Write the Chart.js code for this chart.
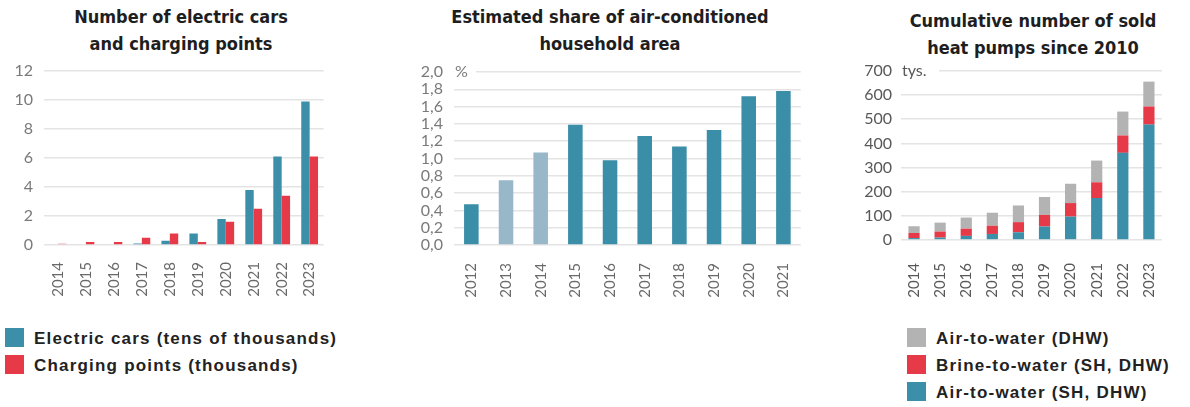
<!DOCTYPE html>
<html>
<head>
<meta charset="utf-8">
<script src="https://cdn.jsdelivr.net/npm/chart.js@4/dist/chart.umd.min.js"></script>
<style>
  html, body { margin: 0; padding: 0; background: #fff; }
  body { width: 1190px; height: 407px; position: relative; overflow: hidden; }
  canvas { position: absolute; top: 0; }
  .title {
    position: absolute; top: 3px; text-align: center; white-space: nowrap;
    font-family: "DejaVu Sans", sans-serif; font-stretch: condensed;
    font-weight: bold; font-size: 18px; line-height: 27px; color: #1e1e1e;
  }
  .legend { position: absolute; font-family: "Liberation Sans", sans-serif; font-weight: bold;
    font-size: 17px; letter-spacing: 1.2px; color: #222; }
  .legend .row { position: relative; height: 27px; line-height: 20px; white-space: nowrap; }
  .legend .sw { display: inline-block; width: 19px; height: 19px; vertical-align: -3px; margin-right: 10px; }
</style>
</head>
<body>
<div class="title" style="left:21px;width:320px;">Number of electric cars<br>and charging points</div>
<div class="title" style="left:440px;width:340px;">Estimated share of air-conditioned<br>household area</div>
<div class="title" style="left:873px;width:320px;top:7px;">Cumulative number of sold<br>heat pumps since 2010</div>

<canvas id="cars" width="345" height="320" style="left:0px"></canvas>
<canvas id="ac" width="420" height="320" style="left:400px"></canvas>
<canvas id="hp" width="340" height="320" style="left:850px"></canvas>

<div class="legend" id="legCars" style="left:5px;top:328px;"></div>
<div class="legend" id="legHp" style="left:907px;top:328px;"></div>

<script>
// Electric cars and charging points
const carYears = ['2014','2015','2016','2017','2018','2019','2020','2021','2022','2023'];
const electricCars = [0, 0, 0, 0.1, 0.3, 0.8, 1.8, 3.8, 6.1, 9.9];          // tens of thousands
const chargingPoints = [0.1, 0.2, 0.2, 0.5, 0.8, 0.2, 1.6, 2.5, 3.4, 6.1];  // thousands
const carTicks = [0, 2, 4, 6, 8, 10, 12];

// Share of air-conditioned household area (%)
const acYears = ['2012','2013','2014','2015','2016','2017','2018','2019','2020','2021'];
const acShare = [0.47, 0.75, 1.07, 1.39, 0.98, 1.26, 1.14, 1.33, 1.72, 1.78];
const acTicks = [0, 0.2, 0.4, 0.6, 0.8, 1.0, 1.2, 1.4, 1.6, 1.8, 2.0];

// Cumulative heat pumps sold since 2010 (thousands)
const hpYears = ['2014','2015','2016','2017','2018','2019','2020','2021','2022','2023'];
const airWaterShDhw = [8, 10, 17, 25, 32, 56, 97, 174, 361, 478];
const brineWater = [21, 25, 30, 34, 42, 48, 56, 65, 72, 75];
const airWaterDhw = [28, 37, 46, 54, 69, 74, 80, 90, 99, 103];
const hpTicks = [0, 100, 200, 300, 400, 500, 600, 700];

const BLUE = '#3b8fa9';
const RED = '#e63a48';
const PINK = '#f1a3ad';
const GREY = '#b3b3b3';
const TEAL = '#3a8ea7';
const LIGHT = '#98b8ca';
const GRID = '#e4e4e4';

Chart.defaults.font.family = 'Lato, "Open Sans", sans-serif';
Chart.defaults.animation = false;

// Unit caption written at the top gridline, masking the start of that line
const unitLabel = {
  id: 'unitLabel',
  beforeDatasetsDraw(chart, args, opts) {
    if (!opts || !opts.text) return;
    const { ctx, chartArea, scales } = chart;
    const y = scales.y.getPixelForValue(scales.y.max);
    ctx.save();
    ctx.fillStyle = '#fff';
    ctx.fillRect(chartArea.left - 2, y - 3, opts.cover, 6);
    ctx.font = opts.font;
    ctx.fillStyle = opts.color;
    ctx.textBaseline = 'middle';
    ctx.fillText(opts.text, chartArea.left + opts.dx, y);
    ctx.restore();
  }
};

function fixedTicks(list) {
  return (scale) => { scale.ticks = list.map(v => ({ value: v })); };
}

function baseOptions(cfg) {
  return {
    responsive: false,
    animation: false,
    layout: { padding: { top: cfg.top, right: cfg.right, left: 0, bottom: 0 } },
    plugins: {
      legend: { display: false },
      tooltip: { enabled: false },
      unitLabel: cfg.unit || {}
    },
    scales: {
      x: {
        stacked: !!cfg.stacked,
        grid: { display: false, drawTicks: false },
        border: { display: false },
        ticks: {
          minRotation: 90, maxRotation: 90, padding: cfg.xPad, autoSkip: false,
          color: cfg.xColor, font: { size: 15 }
        },
        afterFit: (s) => { s.height = cfg.xHeight; }
      },
      y: {
        stacked: !!cfg.stacked,
        min: cfg.min, max: cfg.max,
        grid: { color: GRID, lineWidth: 1.6, drawTicks: false },
        border: { display: false },
        ticks: {
          padding: cfg.yPad, color: cfg.yColor, font: { size: cfg.yFont }, autoSkip: false,
          callback: cfg.fmt || ((v) => v)
        },
        afterBuildTicks: fixedTicks(cfg.ticks),
        afterFit: (s) => { s.width = cfg.yWidth; }
      }
    }
  };
}

new Chart(document.getElementById('cars'), {
  type: 'bar',
  data: {
    labels: carYears,
    datasets: [
      { label: 'Electric cars (tens of thousands)', data: electricCars, backgroundColor: BLUE,
        categoryPercentage: 0.6, barPercentage: 1.0 },
      { label: 'Charging points (thousands)', data: chargingPoints,
        backgroundColor: chargingPoints.map((v, i) => i === 0 ? PINK : RED),
        categoryPercentage: 0.6, barPercentage: 1.0 }
    ]
  },
  options: baseOptions({
    top: 71, right: 7, xHeight: 75, xPad: 17, yWidth: 44, yPad: 11,
    min: 0, max: 12, ticks: carTicks, yFont: 16, yColor: '#7a7a7a', xColor: '#6a6a6a'
  })
});

new Chart(document.getElementById('ac'), {
  type: 'bar',
  data: {
    labels: acYears,
    datasets: [
      { label: 'Share', data: acShare,
        backgroundColor: acYears.map(y => (y === '2013' || y === '2014') ? LIGHT : TEAL),
        categoryPercentage: 0.42, barPercentage: 1.0 }
    ]
  },
  options: baseOptions({
    top: 72, right: 12, xHeight: 75, xPad: 18, yWidth: 54, yPad: 11,
    min: 0, max: 2, ticks: acTicks, yFont: 16, yColor: '#7a7a7a', xColor: '#6a6a6a',
    fmt: (v) => Number(v).toFixed(1).replace('.', ','),
    unit: { text: '%', dx: 1, cover: 24, font: '16px Lato', color: '#7a7a7a' }
  }),
  plugins: [unitLabel]
});

new Chart(document.getElementById('hp'), {
  type: 'bar',
  data: {
    labels: hpYears,
    datasets: [
      { label: 'Air-to-water (SH, DHW)', data: airWaterShDhw, backgroundColor: BLUE,
        categoryPercentage: 0.43, barPercentage: 1.0 },
      { label: 'Brine-to-water (SH, DHW)', data: brineWater, backgroundColor: RED,
        categoryPercentage: 0.43, barPercentage: 1.0 },
      { label: 'Air-to-water (DHW)', data: airWaterDhw, backgroundColor: GREY,
        categoryPercentage: 0.43, barPercentage: 1.0 }
    ]
  },
  options: baseOptions({
    stacked: true,
    top: 71, right: 2, xHeight: 80, xPad: 23, yWidth: 51, yPad: 9,
    min: 0, max: 700, ticks: hpTicks, yFont: 16, yColor: '#585858', xColor: '#585858',
    unit: { text: 'tys.', dx: 1, cover: 40, font: '16px Lato', color: '#585858' }
  }),
  plugins: [unitLabel]
});

// Legends built from the same series names and colours
function buildLegend(id, items) {
  const host = document.getElementById(id);
  items.forEach(([name, color]) => {
    const row = document.createElement('div');
    row.className = 'row';
    const sw = document.createElement('span');
    sw.className = 'sw';
    sw.style.background = color;
    row.appendChild(sw);
    row.appendChild(document.createTextNode(name));
    host.appendChild(row);
  });
}
buildLegend('legCars', [
  ['Electric cars (tens of thousands)', BLUE],
  ['Charging points (thousands)', RED]
]);
buildLegend('legHp', [
  ['Air-to-water (DHW)', GREY],
  ['Brine-to-water (SH, DHW)', RED],
  ['Air-to-water (SH, DHW)', BLUE]
]);
</script>
</body>
</html>
